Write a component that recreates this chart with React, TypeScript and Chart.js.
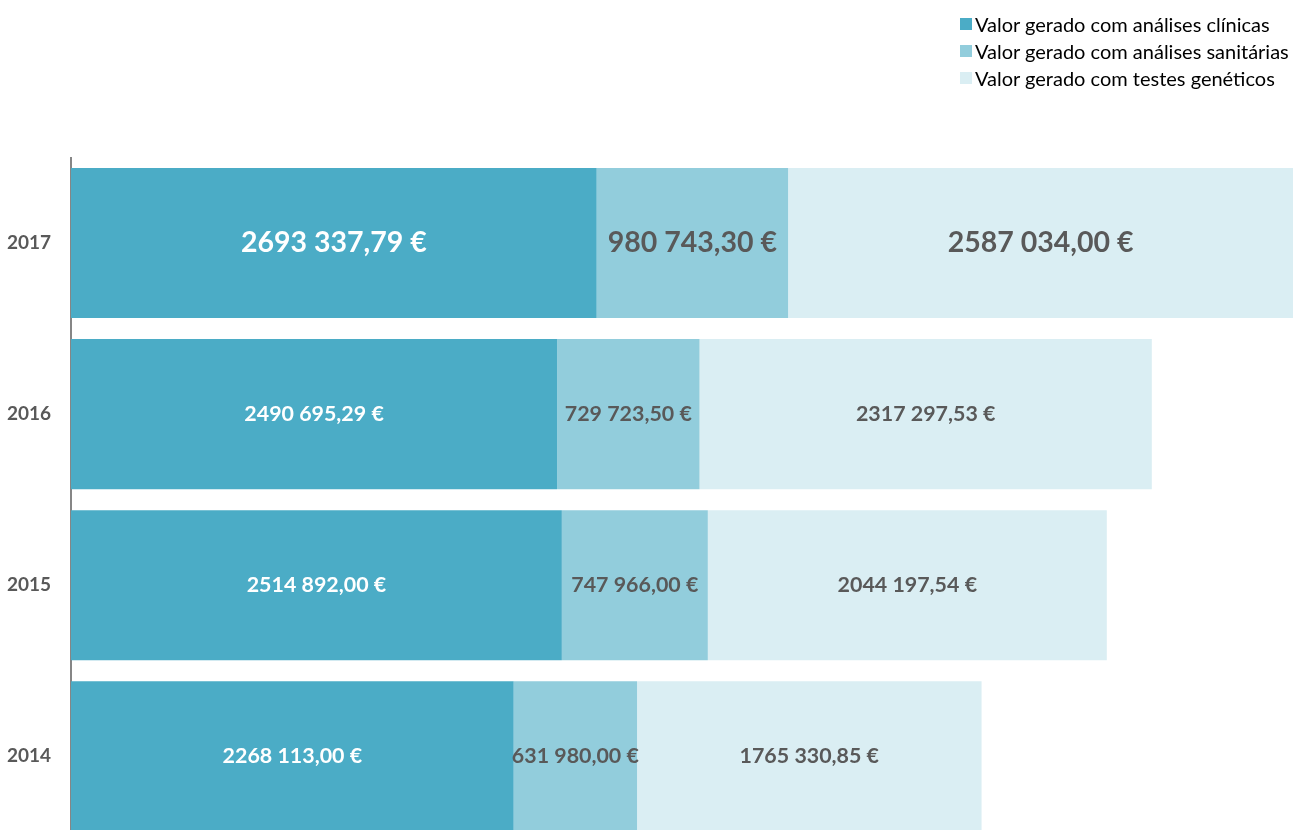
import React, { useEffect, useRef } from "react";
import { Chart, registerables } from "chart.js";

Chart.register(...registerables);

const years = ["2017", "2016", "2015", "2014"];
const seriesNames = [
  "Valor gerado com análises clínicas",
  "Valor gerado com análises sanitárias",
  "Valor gerado com testes genéticos",
];
const clinicas = [2693337.79, 2490695.29, 2514892.0, 2268113.0];
const sanitarias = [980743.3, 729723.5, 747966.0, 631980.0];
const geneticos = [2587034.0, 2317297.53, 2044197.54, 1765330.85];
const colors = ["#4BACC6", "#92CDDC", "#DAEEF3"];
const labelColors = ["#FFFFFF", "#595959", "#595959"];

const fmt = (v: number) => {
  const [i, d] = v.toFixed(2).split(".");
  const s = i.length > 3 ? i.slice(0, i.length - 3) + " " + i.slice(i.length - 3) : i;
  return `${s},${d} €`;
};

const FONT = "Lato, 'Open Sans', sans-serif";

const labelPlugin = {
  id: "segLabels",
  afterDatasetsDraw(chart: any) {
    const ctx = chart.ctx;
    ctx.save();
    chart.data.datasets.forEach((ds: any, di: number) => {
      const meta = chart.getDatasetMeta(di);
      meta.data.forEach((el: any, i: number) => {
        const cx = (el.x + el.base) / 2;
        const size = i === 0 ? 28.5 : 21.4;
        ctx.font = `bold ${size}px ${FONT}`;
        ctx.fillStyle = labelColors[di];
        ctx.textAlign = "center";
        ctx.textBaseline = "middle";
        ctx.fillText(fmt(ds.data[i]), cx, el.y);
      });
    });
    ctx.restore();
  },
};

export default function App() {
  const ref = useRef<HTMLCanvasElement>(null);
  useEffect(() => {
    if (!ref.current) return;
    const total2017 = clinicas[0] + sanitarias[0] + geneticos[0];
    const chart = new Chart(ref.current, {
      type: "bar",
      data: {
        labels: years,
        datasets: [clinicas, sanitarias, geneticos].map((d, k) => ({
          label: seriesNames[k],
          data: d,
          backgroundColor: colors[k],
          borderWidth: 0,
          categoryPercentage: 1,
          barPercentage: 0.877,
        })),
      },
      options: {
        indexAxis: "y",
        responsive: false,
        animation: false,
        layout: { padding: { top: 157.5, left: 0, right: 0, bottom: 0 } },
        plugins: {
          legend: { display: false },
          tooltip: { enabled: false },
        },
        scales: {
          x: {
            stacked: true,
            display: false,
            min: 0,
            max: total2017,
          },
          y: {
            stacked: true,
            grid: { display: false, drawTicks: true, tickLength: 20 },
            border: { display: true, color: "#868686", width: 2 },
            ticks: {
              color: "#595959",
              font: { family: FONT, size: 19, weight: "bold", lineHeight: 0.01 },
              padding: 0,
            },
            afterFit: (s: any) => {
              s.width = 71;
            },
          },
        },
      },
      plugins: [labelPlugin],
    });
    return () => chart.destroy();
  }, []);

  return (
    <div
      style={{
        position: "absolute",
        left: 0,
        top: 0,
        width: 1293,
        height: 830,
        overflow: "hidden",
        background: "#fff",
      }}
    >
      <canvas ref={ref} width={1293} height={842} style={{ display: "block" }} />
      <div
        style={{
          position: "absolute",
          left: 960,
          top: 10,
          fontFamily: FONT,
          fontSize: 20,
          color: "#000",
        }}
      >
        {seriesNames.map((n, k) => (
          <div key={n} style={{ display: "flex", alignItems: "center", height: 27 }}>
            <span
              style={{
                display: "inline-block",
                width: 12,
                height: 12,
                background: colors[k],
                marginRight: 3,
              }}
            />
            <span>{n}</span>
          </div>
        ))}
      </div>
    </div>
  );
}
